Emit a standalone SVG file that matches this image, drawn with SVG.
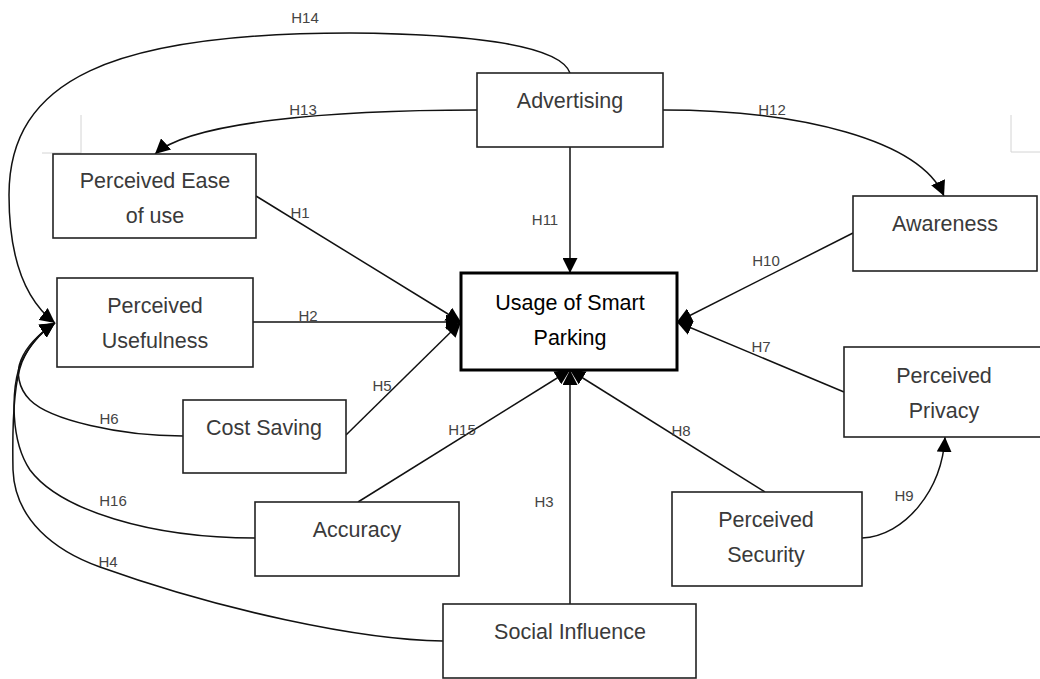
<svg xmlns="http://www.w3.org/2000/svg" width="1040" height="679" viewBox="0 0 1040 679">
  <defs>
    <marker id="arrow" markerUnits="userSpaceOnUse" markerWidth="15" markerHeight="15" refX="15" refY="7.5" orient="auto">
      <path d="M0,0 L15,7.5 L0,15 Z" fill="#000"/>
    </marker>
    <style>
      .box { fill: #fff; stroke: #222; stroke-width: 1.6; }
      .main { fill: #fff; stroke: #000; stroke-width: 3; }
      .node-text { font-family: "Liberation Sans", Arial, sans-serif; font-size: 21.5px; fill: #3a3a3a; text-anchor: middle; }
      .main-text { font-family: "Liberation Sans", Arial, sans-serif; font-size: 21.5px; fill: #000; text-anchor: middle; }
      .edge { fill: none; stroke: #111; stroke-width: 1.5; }
      .arrow { marker-end: url(#arrow); }
      .label { font-family: "Liberation Sans", Arial, sans-serif; font-size: 15px; fill: #444; text-anchor: middle; }
      .guide { fill: none; stroke: #d4d4d4; stroke-width: 1; }
    </style>
  </defs>
  <rect width="1040" height="679" fill="#fff"/>

  <!-- faint page corner marks -->
  <path class="guide" d="M81,115 V153 H42"/>
  <path class="guide" d="M1011,115 V152 H1040"/>

  <!-- connectors -->
  <g id="connectors">
    <!-- H14: Advertising -> Perceived Usefulness -->
    <path class="edge arrow" d="M570,73 C560,45 470,34 350,33 C111,33 9,80 9,195 C9,260 25,300 55,323"/>
    <!-- H13: Advertising -> Perceived Ease of use -->
    <path class="edge arrow" d="M477,110 C330,110 190,122 155,154"/>
    <!-- H12: Advertising -> Awareness -->
    <path class="edge arrow" d="M663,110 C800,110 920,140 944,196"/>
    <!-- H11: Advertising -> Usage -->
    <path class="edge arrow" d="M570,147 L570,273"/>
    <!-- H1, H2, H5 into the left side of Usage -->
    <path class="edge arrow" d="M256,196 L461,322"/>
    <path class="edge arrow" d="M253,322 L461,322"/>
    <path class="edge arrow" d="M346,435 L461,322"/>
    <!-- H10, H7 into the right side of Usage -->
    <path class="edge arrow" d="M853,233 L677,322"/>
    <path class="edge arrow" d="M844,392 L677,322"/>
    <!-- H15, H3, H8 into the bottom of Usage -->
    <path class="edge arrow" d="M358,502 L570,370"/>
    <path class="edge arrow" d="M570,604 L570,370"/>
    <path class="edge arrow" d="M765,492 L570,370"/>
    <!-- H9: Perceived Security -> Perceived Privacy -->
    <path class="edge arrow" d="M862,538 C905,536 942,490 945,437"/>
    <!-- H6: Cost Saving -> Perceived Usefulness -->
    <path class="edge arrow" d="M183,436 C120,436 50,420 30,400 C18,388 16,372 21,360 C27,345 40,333 55,323"/>
    <!-- H16: Accuracy -> Perceived Usefulness -->
    <path class="edge arrow" d="M255,538 C150,538 60,510 30,470 C10,440 12,392 19,368 C25,350 40,333 55,323"/>
    <!-- H4: Social Influence -> Perceived Usefulness -->
    <path class="edge arrow" d="M443,641 C360,640 220,610 100,567 C55,551 15,520 13,470 C12,420 15,380 22,362 C30,343 42,331 55,323"/>
  </g>

  <!-- hypothesis labels -->
  <g id="labels">
    <text class="label" x="305" y="23">H14</text>
    <text class="label" x="303" y="115">H13</text>
    <text class="label" x="772" y="115">H12</text>
    <text class="label" x="300" y="218">H1</text>
    <text class="label" x="545" y="225">H11</text>
    <text class="label" x="766" y="266">H10</text>
    <text class="label" x="308" y="321">H2</text>
    <text class="label" x="761" y="352">H7</text>
    <text class="label" x="382" y="391">H5</text>
    <text class="label" x="109" y="424">H6</text>
    <text class="label" x="462" y="435">H15</text>
    <text class="label" x="681" y="436">H8</text>
    <text class="label" x="113" y="506">H16</text>
    <text class="label" x="544" y="507">H3</text>
    <text class="label" x="904" y="501">H9</text>
    <text class="label" x="108" y="567">H4</text>
  </g>

  <!-- nodes -->
  <g id="advertising">
    <rect class="box" x="477" y="73" width="186" height="74"/>
    <text class="node-text" x="570" y="108">Advertising</text>
  </g>
  <g id="perceived-ease-of-use">
    <rect class="box" x="53" y="154" width="203" height="84"/>
    <text class="node-text" x="155" y="188">Perceived Ease</text>
    <text class="node-text" x="155" y="223">of use</text>
  </g>
  <g id="perceived-usefulness">
    <rect class="box" x="57" y="278" width="196" height="89"/>
    <text class="node-text" x="155" y="313">Perceived</text>
    <text class="node-text" x="155" y="348">Usefulness</text>
  </g>
  <g id="cost-saving">
    <rect class="box" x="183" y="400" width="163" height="73"/>
    <text class="node-text" x="264" y="435">Cost Saving</text>
  </g>
  <g id="accuracy">
    <rect class="box" x="255" y="502" width="204" height="74"/>
    <text class="node-text" x="357" y="537">Accuracy</text>
  </g>
  <g id="social-influence">
    <rect class="box" x="443" y="604" width="253" height="74"/>
    <text class="node-text" x="570" y="639">Social Influence</text>
  </g>
  <g id="usage-of-smart-parking">
    <rect class="main" x="461" y="273" width="216" height="97"/>
    <text class="main-text" x="570" y="310">Usage of Smart</text>
    <text class="main-text" x="570" y="345">Parking</text>
  </g>
  <g id="awareness">
    <rect class="box" x="853" y="196" width="184" height="75"/>
    <text class="node-text" x="945" y="231">Awareness</text>
  </g>
  <g id="perceived-privacy">
    <rect class="box" x="844" y="347" width="200" height="90"/>
    <text class="node-text" x="944" y="383">Perceived</text>
    <text class="node-text" x="944" y="418">Privacy</text>
  </g>
  <g id="perceived-security">
    <rect class="box" x="672" y="492" width="190" height="94"/>
    <text class="node-text" x="766" y="527">Perceived</text>
    <text class="node-text" x="766" y="562">Security</text>
  </g>
</svg>
